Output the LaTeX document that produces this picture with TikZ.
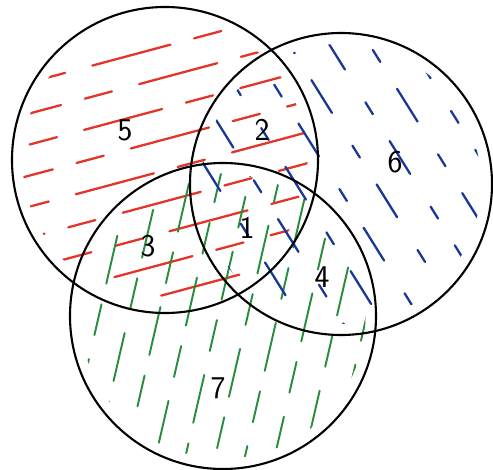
\documentclass[tikz,border=0pt]{standalone}
\usepackage{tikz}
\usetikzlibrary{positioning}
\definecolor{penred}{RGB}{226,52,40}
\definecolor{penblue}{RGB}{25,55,150}
\definecolor{pengreen}{RGB}{40,140,60}
\newcommand{\circA}{(3.3,6.2) circle (3.06)}
\newcommand{\circB}{(6.82,5.72) circle (3.02)}
\newcommand{\circC}{(4.46,3.08) circle (3.06)}
\tikzset{
  hatch/.style={line width=1.3pt, line cap=round},
  region/.style={font=\sffamily\fontsize{18}{20}\selectfont, inner sep=1pt}
}

\begin{document}
\begin{tikzpicture}
\useasboundingbox (0,0) rectangle (9.86,9.4);
% red strokes in A
\begin{scope}[shift={(3.3,6.2)}, rotate=15]
\clip (0,0) circle (2.85);
\foreach \y [count=\i, evaluate=\i as \ph using {mod(\i*23,60)}] in {-2.6,-2.0,...,2.8}
  \draw[hatch, penred, dash pattern=on 46pt off 14pt on 16pt off 16pt, dash phase=\ph pt] (-3.2,\y) -- (3.2,\y);
\end{scope}
% green strokes in C
\begin{scope}[shift={(4.46,3.08)}, rotate=77]
\clip (0,0) circle (2.85);
\foreach \y [count=\i, evaluate=\i as \ph using {mod(\i*19,70)}] in {-2.8,-2.22,...,3}
  \draw[hatch, pengreen, line width=1.1pt, dash pattern=on 28pt off 14pt on 18pt off 12pt, dash phase=\ph pt] (-3.2,\y) -- (3.2,\y);
\end{scope}
% blue strokes in B
\begin{scope}[shift={(6.82,5.72)}, rotate=-58]
\clip (0,0) circle (2.8);
\foreach \y [count=\i, evaluate=\i as \ph using {mod(\i*17,64)}] in {-2.8,-2.12,...,3}
  \draw[hatch, penblue, dash pattern=on 22pt off 22pt on 8pt off 18pt, dash phase=\ph pt] (-3.2,\y) -- (3.2,\y);
\end{scope}
\draw[line width=1.2pt] \circA;
\draw[line width=1.2pt] \circB;
\draw[line width=1.2pt] \circC;
\node[region] (n1) at (4.94,4.84) {1};
\node[region] (n2) at (5.24,6.8) {2};
\node[region] (n3) at (2.96,4.48) {3};
\node[region] (n4) at (6.44,3.86) {4};
\node[region] (n5) at (2.5,6.8) {5};
\node[region] (n6) at (7.9,6.16) {6};
\node[region] (n7) at (4.36,1.64) {7};
\end{tikzpicture}
\end{document}
